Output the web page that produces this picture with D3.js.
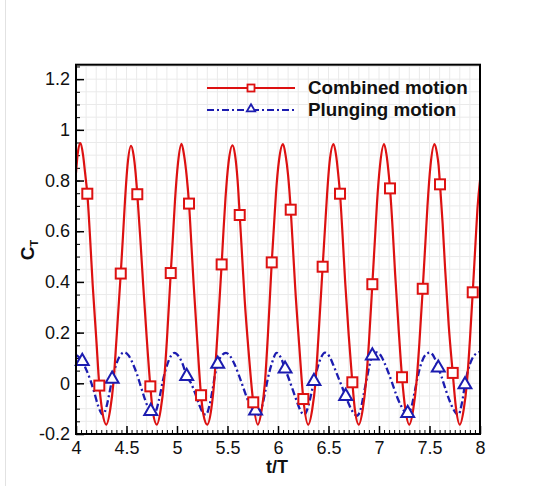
<!DOCTYPE html>
<html><head><meta charset="utf-8">
<script src="https://cdn.jsdelivr.net/npm/d3@7"></script>
<style>body{margin:0;background:#fff}svg{display:block}text{font-family:"Liberation Sans",Arial,sans-serif}</style>
</head><body><svg id="c" width="536" height="486"></svg>
<script>
// Combined motion (t/T, C_T); "m" marks symbol points
const combinedT = [4.0,4.02,4.045,4.07,4.09,4.112,4.14,4.165,4.2,4.231,4.26,4.3,4.34,4.37,4.4,4.443,4.465,4.485,4.51,4.545,4.57,4.59,4.607,4.64,4.665,4.7,4.736,4.76,4.8,4.84,4.87,4.9,4.938,4.96,4.98,5.01,5.045,5.07,5.095,5.119,5.145,5.165,5.2,5.238,5.26,5.3,5.34,5.365,5.4,5.442,5.46,5.48,5.51,5.55,5.575,5.6,5.621,5.645,5.67,5.71,5.755,5.8,5.84,5.87,5.9,5.938,5.96,5.98,6.01,6.05,6.075,6.1,6.126,6.15,6.17,6.21,6.251,6.3,6.34,6.37,6.4,6.442,6.465,6.485,6.51,6.55,6.575,6.595,6.614,6.64,6.665,6.7,6.736,6.76,6.8,6.84,6.87,6.9,6.934,6.96,6.98,7.01,7.05,7.075,7.09,7.109,7.135,7.16,7.195,7.228,7.26,7.3,7.34,7.37,7.4,7.433,7.46,7.48,7.51,7.55,7.575,7.59,7.604,7.63,7.655,7.69,7.73,7.76,7.8,7.84,7.87,7.9,7.928,7.955,7.975,8.0];
const combinedV = [0.83,0.915,0.948,0.9,0.83,0.748,0.57,0.39,0.18,-0.009,-0.11,-0.163,-0.1,0.0,0.17,0.433,0.58,0.72,0.86,0.937,0.9,0.83,0.746,0.55,0.39,0.18,-0.012,-0.11,-0.163,-0.1,0.0,0.17,0.435,0.58,0.72,0.87,0.945,0.9,0.82,0.709,0.53,0.39,0.17,-0.047,-0.12,-0.163,-0.1,-0.01,0.19,0.469,0.6,0.73,0.87,0.939,0.9,0.8,0.664,0.5,0.33,0.12,-0.075,-0.163,-0.1,0.0,0.19,0.477,0.62,0.75,0.88,0.944,0.9,0.82,0.685,0.52,0.38,0.15,-0.062,-0.163,-0.1,0.0,0.18,0.46,0.61,0.74,0.87,0.944,0.9,0.83,0.748,0.58,0.4,0.19,0.004,-0.1,-0.163,-0.1,0.0,0.16,0.391,0.57,0.71,0.86,0.944,0.9,0.85,0.769,0.61,0.43,0.21,0.024,-0.1,-0.163,-0.1,0.0,0.16,0.373,0.56,0.7,0.86,0.944,0.905,0.86,0.785,0.63,0.45,0.23,0.041,-0.09,-0.163,-0.1,0.0,0.17,0.359,0.55,0.69,0.8];
const combinedMarks = [4.112,4.231,4.443,4.607,4.736,4.938,5.119,5.238,5.442,5.621,5.755,5.938,6.126,6.251,6.442,6.614,6.736,6.934,7.109,7.228,7.433,7.604,7.73,7.928];

const plungingT = [4.0,4.03,4.062,4.1,4.14,4.18,4.22,4.264,4.3,4.33,4.358,4.39,4.43,4.478,4.52,4.56,4.6,4.64,4.68,4.72,4.74,4.766,4.8,4.83,4.86,4.9,4.94,4.975,5.02,5.06,5.096,5.14,5.18,5.22,5.25,5.287,5.32,5.35,5.375,5.403,5.44,5.485,5.53,5.57,5.61,5.65,5.69,5.73,5.778,5.805,5.84,5.87,5.9,5.94,5.987,6.03,6.07,6.11,6.15,6.19,6.225,6.26,6.3,6.33,6.356,6.39,6.43,6.465,6.51,6.55,6.59,6.63,6.67,6.71,6.75,6.78,6.82,6.85,6.88,6.905,6.934,6.977,7.02,7.06,7.1,7.14,7.18,7.22,7.255,7.284,7.32,7.35,7.38,7.42,7.46,7.505,7.55,7.587,7.62,7.66,7.7,7.74,7.785,7.82,7.851,7.88,7.92,7.96,8.0];
const plungingV = [0.112,0.103,0.087,0.055,0.015,-0.035,-0.09,-0.123,-0.095,-0.04,0.017,0.065,0.105,0.122,0.11,0.08,0.04,-0.01,-0.06,-0.1,-0.11,-0.126,-0.1,-0.05,0.01,0.07,0.108,0.12,0.105,0.072,0.028,0.0,-0.04,-0.085,-0.112,-0.124,-0.09,-0.03,0.03,0.076,0.108,0.12,0.105,0.075,0.035,-0.01,-0.055,-0.09,-0.108,-0.124,-0.095,-0.04,0.02,0.08,0.12,0.1,0.057,0.015,-0.03,-0.075,-0.11,-0.124,-0.09,-0.04,0.008,0.06,0.105,0.121,0.105,0.07,0.03,-0.01,-0.051,-0.09,-0.118,-0.128,-0.1,-0.04,0.02,0.07,0.109,0.122,0.108,0.075,0.035,-0.01,-0.055,-0.09,-0.112,-0.118,-0.095,-0.04,0.02,0.08,0.112,0.121,0.1,0.061,0.025,-0.025,-0.07,-0.105,-0.125,-0.08,-0.005,0.05,0.095,0.117,0.124];
const plungingMarks = [4.062,4.358,4.74,5.096,5.403,5.778,6.07,6.356,6.67,6.934,7.284,7.587,7.851];

const xTicks = [4,4.5,5,5.5,6,6.5,7,7.5,8];
const xTickLabels = ["4","4.5","5","5.5","6","6.5","7","7.5","8"];
const yTicks = [-0.2,0,0.2,0.4,0.6,0.8,1,1.2];
const yTickLabels = ["-0.2","0","0.2","0.4","0.6","0.8","1","1.2"];
const seriesNames = ["Combined motion","Plunging motion"];

const RED = "#dd1111", BLUE = "#1c1cb0";
const svg = d3.select("#c");
const L = 76, R = 480, T = 64.7, B = 434;
const x = d3.scaleLinear().domain([4,8]).range([L,R]);
const y = d3.scaleLinear().domain([-0.2,1.257]).range([B,T]);

// faint page edge line
svg.append("line").attr("x1",5.5).attr("x2",5.5).attr("y1",0).attr("y2",486).attr("stroke","#e2e2e2");

// grid
const g = svg.append("g");
g.selectAll(".gx").data(d3.range(41).map(i=>4+i*0.1)).enter().append("line")
  .attr("x1",d=>x(d)).attr("x2",d=>x(d)).attr("y1",T).attr("y2",B).attr("stroke","#eaeaea").attr("stroke-width",1);
g.selectAll(".gy").data(d3.range(30).map(i=>-0.2+i*0.05)).enter().append("line")
  .attr("y1",d=>y(d)).attr("y2",d=>y(d)).attr("x1",L).attr("x2",R).attr("stroke","#eaeaea").attr("stroke-width",1);

// axes with inward ticks
const xMinor = d3.range(81).map(i=>4+i*0.05);
const yMinor = d3.range(30).map(i=>-0.2+i*0.05).filter(v=>v<=1.257);
svg.append("g").attr("transform",`translate(0,${B})`)
  .call(d3.axisBottom(x).tickValues(xMinor).tickSize(-4).tickFormat(""))
  .call(a=>a.select(".domain").remove()).selectAll("line").attr("stroke","#000");
svg.append("g").attr("transform",`translate(0,${B})`)
  .call(d3.axisBottom(x).tickValues(xTicks).tickSize(-8).tickPadding(7).tickFormat((d,i)=>xTickLabels[i]))
  .call(a=>a.select(".domain").remove())
  .call(a=>a.selectAll("line").attr("stroke","#000").attr("stroke-width",1.5))
  .call(a=>a.selectAll("text").attr("font-size",18).attr("fill","#111"));
svg.append("g").attr("transform",`translate(${L},0)`)
  .call(d3.axisLeft(y).tickValues(yMinor).tickSize(-4).tickFormat(""))
  .call(a=>a.select(".domain").remove()).selectAll("line").attr("stroke","#000");
svg.append("g").attr("transform",`translate(${L},0)`)
  .call(d3.axisLeft(y).tickValues(yTicks).tickSize(-8).tickPadding(6).tickFormat((d,i)=>yTickLabels[i]))
  .call(a=>a.select(".domain").remove())
  .call(a=>a.selectAll("line").attr("stroke","#000").attr("stroke-width",1.5))
  .call(a=>a.selectAll("text").attr("font-size",18).attr("fill","#111"));

// clip
svg.append("clipPath").attr("id","clip").append("rect").attr("x",L).attr("y",T).attr("width",R-L).attr("height",B-T);

const line = d3.line().x(d=>x(d[0])).y(d=>y(d[1])).curve(d3.curveMonotoneX);
const red = combinedT.map((t,i)=>[t,combinedV[i]]);
const blue = plungingT.map((t,i)=>[t,plungingV[i]]);
const plot = svg.append("g").attr("clip-path","url(#clip)");
plot.append("path").datum(blue).attr("d",line).attr("fill","none").attr("stroke",BLUE).attr("stroke-width",2.3).attr("stroke-dasharray","7,3,2,3");
plot.append("path").datum(red).attr("d",line).attr("fill","none").attr("stroke",RED).attr("stroke-width",2.2);

const tri = d3.symbol().type(d3.symbolTriangle).size(72);
svg.selectAll(".tri").data(blue.filter(d=>plungingMarks.includes(d[0]))).enter().append("path")
  .attr("d",tri).attr("transform",d=>`translate(${x(d[0])},${y(d[1])})`)
  .attr("fill","#fff").attr("stroke",BLUE).attr("stroke-width",2);
svg.selectAll(".sq").data(red.filter(d=>combinedMarks.includes(d[0]))).enter().append("rect")
  .attr("x",d=>x(d[0])-5).attr("y",d=>y(d[1])-5).attr("width",10).attr("height",10)
  .attr("fill","#fff").attr("stroke",RED).attr("stroke-width",2);

// frame
svg.append("rect").attr("x",L).attr("y",T).attr("width",R-L).attr("height",B-T).attr("fill","none").attr("stroke","#000").attr("stroke-width",2);

// legend
const lg = svg.append("g");
lg.append("line").attr("x1",207).attr("x2",295).attr("y1",88).attr("y2",88).attr("stroke",RED).attr("stroke-width",2);
lg.append("rect").attr("x",247.5).attr("y",84.5).attr("width",7).attr("height",7).attr("fill","#fff").attr("stroke",RED).attr("stroke-width",1.8);
lg.append("line").attr("x1",207).attr("x2",295).attr("y1",110).attr("y2",110).attr("stroke",BLUE).attr("stroke-width",2).attr("stroke-dasharray","7,3,2,3");
lg.append("path").attr("d",d3.symbol().type(d3.symbolTriangle).size(30)).attr("transform","translate(251,109)").attr("fill","#fff").attr("stroke",BLUE).attr("stroke-width",1.8);
lg.append("text").attr("x",308).attr("y",94).attr("font-size",18.8).attr("font-weight","bold").attr("fill","#111").text(seriesNames[0]);
lg.append("text").attr("x",308).attr("y",116).attr("font-size",18.8).attr("font-weight","bold").attr("fill","#111").text(seriesNames[1]);

// axis titles
svg.append("text").attr("x",277).attr("y",473).attr("text-anchor","middle").attr("font-size",18).attr("font-weight","bold").attr("fill","#111").text("t/T");
const yt = svg.append("text").attr("transform","translate(34,250) rotate(-90)").attr("text-anchor","middle").attr("font-size",19).attr("font-weight","bold").attr("fill","#111");
yt.append("tspan").text("C");
yt.append("tspan").attr("font-size",11).attr("dy",4).text("T");
</script></body></html>
